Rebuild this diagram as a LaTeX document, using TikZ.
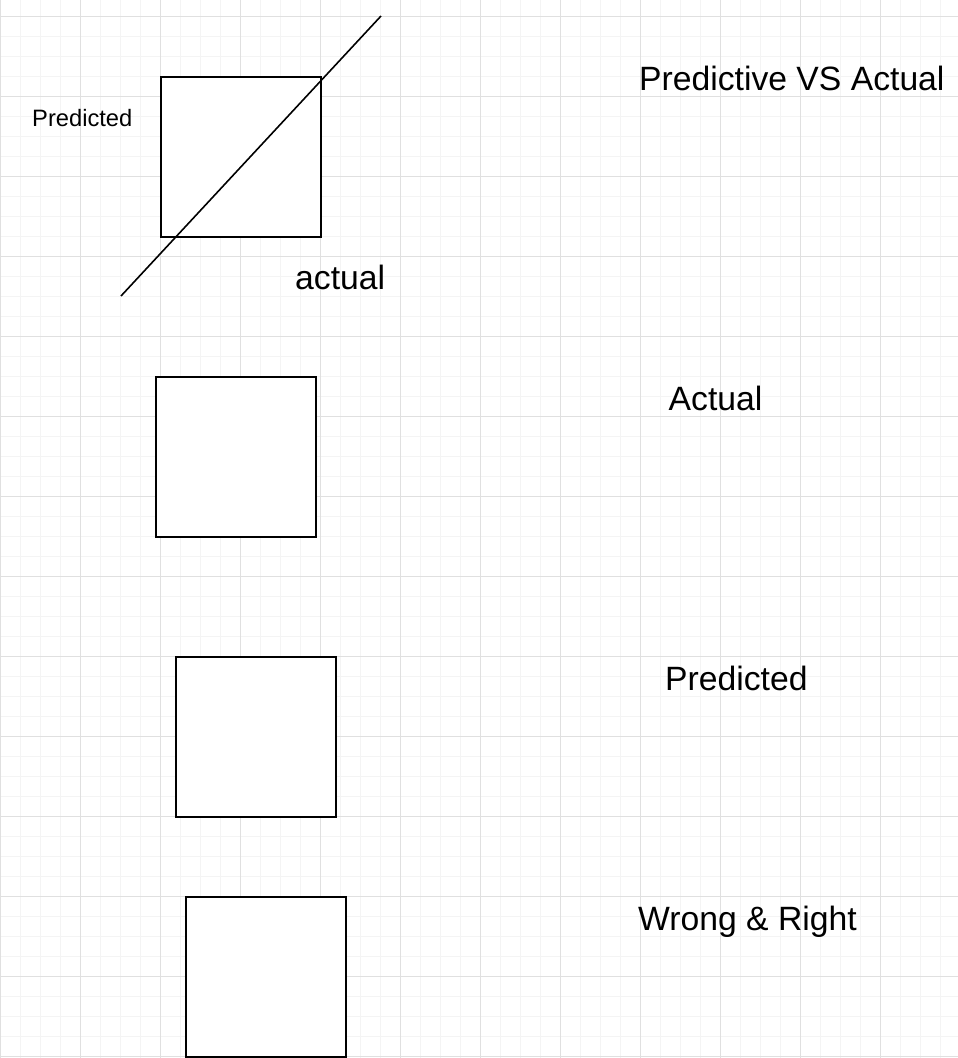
\documentclass[tikz,border=0pt]{standalone}
\usepackage{fontspec}
\setmainfont{Liberation Sans}
\definecolor{gridminor}{RGB}{244,244,244}
\definecolor{gridmajor}{RGB}{224,224,224}
\begin{document}
\begin{tikzpicture}[x=1pt,y=-1pt,
  box/.style={draw=black, fill=white, line width=2pt, minimum size=160pt, inner sep=0pt, outer sep=0pt},
  bigtext/.style={anchor=base west, inner sep=0pt, font=\fontsize{33.7}{40}\selectfont},
  smalltext/.style={anchor=base west, inner sep=0pt, font=\fontsize{23.7}{28}\selectfont},
  diag/.style={draw=black, line width=1.6pt}]
\useasboundingbox[fill=white] (0,0) rectangle (958,1058);
% grid
\foreach \i in {0,...,47} {\draw[gridminor, line width=1pt] (\i*20,0) -- (\i*20,1058);}
\foreach \j in {0,...,52} {\draw[gridminor, line width=1pt] (0,16+\j*20) -- (958,16+\j*20);}
\foreach \i in {0,...,11} {\draw[gridmajor, line width=1pt] (\i*80,0) -- (\i*80,1058);}
\foreach \j in {0,...,13} {\draw[gridmajor, line width=1pt] (0,16+\j*80) -- (958,16+\j*80);}
% squares
\node[box] (sq1) at (241,157) {};
\node[box] (sq2) at (236,457) {};
\node[box] (sq3) at (256,737) {};
\node[box] (sq4) at (266,977) {};
% diagonal
\coordinate (d1) at (121,296);
\coordinate (d2) at (381,16);
\draw[diag] (d1) -- (d2);
% texts
\node[smalltext] (tpred) at (32,126) {Predicted};
\node[bigtext] (tact) at (295,289.5) {actual};
\node[bigtext] (ttitle) at (639,90) {Predictive VS Actual};
\node[bigtext] (tactual) at (668.5,410) {Actual};
\node[bigtext] (tpredicted) at (665,690) {Predicted};
\node[bigtext] (twr) at (638,930) {Wrong \& Right};
\end{tikzpicture}
\end{document}
